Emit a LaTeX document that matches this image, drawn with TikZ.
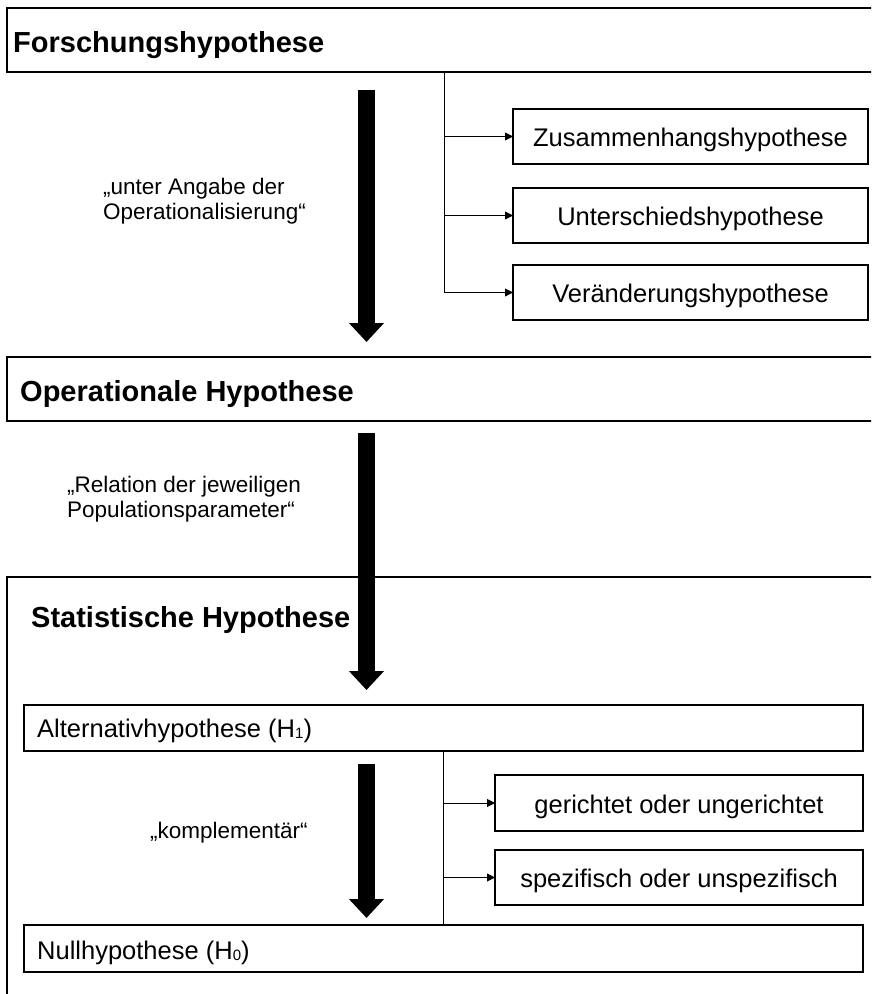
\documentclass[tikz,border=0pt]{standalone}
\usepackage{fontspec}
\setmainfont{Liberation Sans}
\usetikzlibrary{arrows.meta}
\newcommand\hypTitleFont{\fontsize{29pt}{34pt}\selectfont\bfseries}
\newcommand\hypBoxFont{\fontsize{25.5pt}{30pt}\selectfont}
\newcommand\hypNoteFont{\fontsize{22.5pt}{25pt}\selectfont}
\newcommand\hypIdx[1]{\raisebox{-1.5pt}{\fontsize{15pt}{15pt}\selectfont #1}}
\begin{document}
\begin{tikzpicture}[x=1pt,y=-1pt,
  frame/.style={draw=black, line width=1.4pt, inner sep=0pt, outer sep=0pt, anchor=north west},
  subbox/.style={frame, font=\hypBoxFont, text height=20pt, text depth=0pt},
  title/.style={anchor=base west, inner sep=0pt, font=\hypTitleFont},
  plain/.style={anchor=base west, inner sep=0pt, font=\hypBoxFont},
  note/.style={anchor=base west, inner sep=0pt, font=\hypNoteFont, align=left},
  trunk/.style={draw=black, line width=0.9pt},
  conn/.style={trunk, -{Triangle[length=8pt,width=8pt]}},
  bigarrow/.style={draw=black, line width=17pt, -{Triangle[length=19pt,width=34pt]}}
]
\useasboundingbox (0,0) rectangle (871,994);
\clip (0,0) rectangle (871,994);

% main levels
\node[frame, minimum width=880pt, minimum height=64pt] (fh) at (7,8) {};
\node[frame, minimum width=880pt, minimum height=64pt] (oh) at (7,357) {};
\node[frame, minimum width=880pt, minimum height=440pt] (sh) at (7,577) {};
\node[frame, minimum width=839pt, minimum height=46pt] (alt) at (24,705) {};
\node[frame, minimum width=839pt, minimum height=47pt] (null) at (24,925) {};

\node[title] (fhText) at (13,52) {Forschungshypothese};
\node[title] (ohText) at (20,401) {Operationale Hypothese};
\node[title] (shText) at (31,627) {Statistische Hypothese};
\node[plain] (altText) at (37,737) {Alternativhypothese (H\hypIdx{1})};
\node[plain] (nullText) at (37,959) {Nullhypothese (H\hypIdx{0})};

% kinds of research hypotheses
\node[subbox, minimum width=355pt, minimum height=55pt] (zh) at (513,109) {Zusammenhangshypothese};
\node[subbox, minimum width=355pt, minimum height=55pt] (uh) at (513,188) {Unterschiedshypothese};
\node[subbox, minimum width=355pt, minimum height=55pt] (vh) at (513,265) {Veränderungshypothese};

% properties of the alternative hypothesis
\node[subbox, minimum width=368pt, minimum height=56pt] (gu) at (495,775) {gerichtet oder ungerichtet};
\node[subbox, minimum width=368pt, minimum height=55pt] (su) at (495,850) {spezifisch oder unspezifisch};

% branch trees
\coordinate (trunkA) at (444,0);
\coordinate (trunkB) at (443,0);
\draw[trunk] (trunkA |- fh.south) -- (trunkA |- vh.west);
\draw[conn] (trunkA |- zh.west) -- (zh.west);
\draw[conn] (trunkA |- uh.west) -- (uh.west);
\draw[conn] (trunkA |- vh.west) -- (vh.west);
\draw[trunk] (trunkB |- alt.south) -- (trunkB |- null.north);
\draw[conn] (trunkB |- gu.west) -- (gu.west);
\draw[conn] (trunkB |- su.west) -- (su.west);

% thick flow arrows
\coordinate (a1s) at (366.5,90);
\coordinate (a1e) at (366.5,342);
\coordinate (a2s) at (366.5,433);
\coordinate (a2e) at (366.5,690);
\coordinate (a3s) at (366.5,764);
\coordinate (a3e) at (366.5,918);
\draw[bigarrow] (a1s) -- (a1e);
\draw[bigarrow] (a2s) -- (a2e);
\draw[bigarrow] (a3s) -- (a3e);

% arrow annotations (base = baseline of the last line)
\node[note] (n1) at (103,219) {„unter Angabe der\\Operationalisierung“};
\node[note] (n2) at (67,517) {„Relation der jeweiligen\\Populationsparameter“};
\node[note] (n3) at (150,838) {„komplementär“};
\end{tikzpicture}
\end{document}
